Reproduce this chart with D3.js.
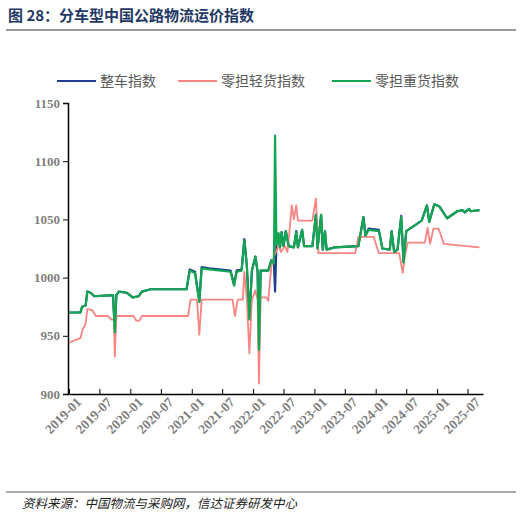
<!DOCTYPE html>
<html><head><meta charset="utf-8">
<script src="https://cdn.jsdelivr.net/npm/d3@7"></script>
<style>body{margin:0;background:#fff}</style></head>
<body><svg id="c" width="522" height="520"></svg>
<script>
const seriesNames=["整车指数","零担轻货指数","零担重货指数"];
const colors=["#1f3e8c","#f88582","#12a650"];
const xTicks=["2019-01","2019-07","2020-01","2020-07","2021-01","2021-07","2022-01","2022-07","2023-01","2023-07","2024-01","2024-07","2025-01","2025-07"];
const yTicks=[900,950,1000,1050,1100,1150];
const heavy=[["2019-01-01",970],["2019-03-10",970],["2019-03-20",975],["2019-04-10",976],["2019-04-20",988],["2019-05-10",987],["2019-06-01",984],["2019-09-20",985],["2019-10-01",953],["2019-10-10",985],["2019-10-25",988],["2019-12-10",987],["2020-01-15",983],["2020-02-20",984],["2020-03-10",988],["2020-05-01",990],["2020-12-01",990],["2020-12-20",1006],["2021-01-20",1004],["2021-02-15",979],["2021-03-01",1008],["2021-04-15",1007],["2021-08-20",1005],["2021-09-10",993],["2021-09-25",1005],["2021-10-25",1006],["2021-11-10",1032],["2021-11-25",1010],["2021-12-10",964],["2021-12-25",1006],["2022-01-15",1018],["2022-01-28",1005],["2022-02-05",938],["2022-02-15",1006],["2022-04-01",1006],["2022-04-20",1015],["2022-05-05",1012],["2022-05-12",1122],["2022-05-20",1028],["2022-06-01",1038],["2022-06-10",1026],["2022-06-20",1039],["2022-07-01",1027],["2022-07-15",1040],["2022-08-01",1027],["2022-09-01",1026],["2022-09-15",1039],["2022-09-25",1026],["2022-10-20",1041],["2022-11-01",1027],["2022-12-20",1027],["2023-01-10",1054],["2023-01-20",1025],["2023-02-10",1054],["2023-02-20",1024],["2023-03-05",1040],["2023-03-15",1024],["2023-05-01",1026],["2023-09-20",1027],["2023-10-20",1052],["2023-11-01",1036],["2023-11-20",1041],["2024-01-20",1040],["2024-02-10",1025],["2024-03-25",1024],["2024-04-05",1040],["2024-04-20",1022],["2024-05-10",1024],["2024-06-01",1052],["2024-06-15",1013],["2024-07-01",1040],["2024-08-01",1043],["2024-10-01",1049],["2024-11-01",1062],["2024-11-15",1048],["2024-12-15",1063],["2025-01-15",1061],["2025-03-01",1051],["2025-05-01",1057],["2025-06-01",1058],["2025-06-15",1056],["2025-07-10",1059],["2025-07-20",1057],["2025-09-10",1058]];
const full=[["2019-01-01",970],["2019-03-10",970],["2019-03-20",975],["2019-04-10",976],["2019-04-20",988],["2019-05-10",987],["2019-06-01",984],["2019-09-20",985],["2019-10-01",954],["2019-10-10",985],["2019-10-25",988],["2019-12-10",987],["2020-01-15",983],["2020-02-20",984],["2020-03-10",988],["2020-05-01",990],["2020-12-01",990],["2020-12-20",1007],["2021-01-20",1005],["2021-02-15",980],["2021-03-01",1009],["2021-04-15",1008],["2021-08-20",1006],["2021-09-10",994],["2021-09-25",1006],["2021-10-25",1007],["2021-11-10",1033],["2021-11-25",1010],["2021-12-10",965],["2021-12-25",1006],["2022-01-15",1018],["2022-01-28",1005],["2022-02-05",939],["2022-02-15",1006],["2022-04-01",1006],["2022-04-20",1015],["2022-05-05",1012],["2022-05-12",988],["2022-05-20",1028],["2022-06-01",1038],["2022-06-10",1026],["2022-06-20",1039],["2022-07-01",1027],["2022-07-15",1040],["2022-08-01",1027],["2022-09-01",1026],["2022-09-15",1040],["2022-09-25",1026],["2022-10-20",1041],["2022-11-01",1027],["2022-12-20",1027],["2023-01-10",1054],["2023-01-20",1025],["2023-02-10",1054],["2023-02-20",1024],["2023-03-05",1040],["2023-03-15",1024],["2023-05-01",1026],["2023-09-20",1027],["2023-10-20",1052],["2023-11-01",1036],["2023-11-20",1042],["2024-01-20",1041],["2024-02-10",1025],["2024-03-25",1024],["2024-04-05",1040],["2024-04-20",1022],["2024-05-10",1024],["2024-06-01",1053],["2024-06-15",1013],["2024-07-01",1040],["2024-08-01",1043],["2024-10-01",1049],["2024-11-01",1062],["2024-11-15",1048],["2024-12-15",1063],["2025-01-15",1061],["2025-03-01",1051],["2025-05-01",1057],["2025-06-01",1058],["2025-06-15",1056],["2025-07-10",1059],["2025-07-20",1057],["2025-09-10",1058]];
const light=[["2019-01-01",944],["2019-02-01",946],["2019-03-10",948],["2019-03-25",956],["2019-04-10",960],["2019-04-20",973],["2019-05-20",972],["2019-06-10",967],["2019-08-20",967],["2019-09-10",964],["2019-09-25",964],["2019-10-01",932],["2019-10-10",967],["2020-01-20",967],["2020-02-05",963],["2020-02-25",963],["2020-03-10",967],["2020-12-10",967],["2020-12-25",981],["2021-02-01",981],["2021-02-15",951],["2021-03-01",981],["2021-09-01",981],["2021-09-15",967],["2021-10-01",981],["2021-11-01",981],["2021-11-10",1005],["2021-11-25",981],["2021-12-10",935],["2021-12-25",981],["2022-01-15",989],["2022-01-28",981],["2022-02-05",909],["2022-02-15",983],["2022-03-20",983],["2022-04-01",980],["2022-04-20",1010],["2022-05-05",1018],["2022-05-20",1023],["2022-06-05",1028],["2022-06-15",1022],["2022-07-10",1027],["2022-07-25",1022],["2022-08-20",1062],["2022-09-01",1050],["2022-09-15",1062],["2022-09-25",1049],["2022-12-20",1049],["2023-01-10",1068],["2023-01-25",1021],["2023-09-01",1021],["2023-09-20",1035],["2023-12-20",1035],["2024-01-20",1021],["2024-05-20",1021],["2024-06-10",1004],["2024-06-25",1020],["2024-07-10",1030],["2024-10-20",1030],["2024-11-05",1043],["2024-11-20",1029],["2024-12-10",1042],["2025-01-10",1042],["2025-02-10",1029],["2025-09-10",1026]];

const svg=d3.select("#c");
const pd=d3.timeParse("%Y-%m-%d"), pm=d3.timeParse("%Y-%m");
const x=d3.scaleTime().domain([pm("2019-01"),pd("2025-10-01")]).range([69,483]);
const y=d3.scaleLinear().domain([900,1150]).range([394,103]);
const serif="'Liberation Serif','Times New Roman',serif";
const cjk="'Noto Sans CJK SC',sans-serif";

svg.append("text").attr("x",8).attr("y",21).attr("font-family",cjk).attr("font-weight","bold").attr("font-size",15).attr("fill","#1f3864").text("图 28：分车型中国公路物流运价指数");
svg.append("line").attr("x1",6).attr("x2",516).attr("y1",30).attr("y2",30).attr("stroke","#333").attr("stroke-width",1);

const lx=[57,178,332];
seriesNames.forEach((n,i)=>{
  svg.append("line").attr("x1",lx[i]).attr("x2",lx[i]+39).attr("y1",81).attr("y2",81).attr("stroke",colors[i]).attr("stroke-width",2);
  svg.append("text").attr("x",lx[i]+43).attr("y",86).attr("font-family",cjk).attr("font-size",14).attr("fill","#595959").text(n);
});

const ya=svg.append("g").attr("transform","translate(68,0)").call(d3.axisLeft(y).tickValues(yTicks).tickSize(5).tickFormat(d3.format("d")));
ya.selectAll("text").attr("font-family",serif).attr("font-weight","bold").attr("font-size",13).attr("fill","#7f7f7f");
ya.select(".domain").attr("stroke","#000").attr("stroke-width",1.5);
const xa=svg.append("g").attr("transform","translate(0,394)").call(d3.axisBottom(x).tickValues(xTicks.map(t=>pm(t))).tickSize(-5).tickSizeOuter(0).tickFormat(d3.timeFormat("%Y-%m")));
xa.select(".domain").attr("stroke","#000").attr("stroke-width",1.5);
xa.selectAll("text").attr("font-family",serif).attr("font-weight","bold").attr("font-size",13.5).attr("fill","#7f7f7f")
  .attr("text-anchor","end").attr("transform","translate(6,2) rotate(-45)").attr("dy","0.5em");

const line=d3.line().x(d=>x(pd(d[0]))).y(d=>y(d[1]));
[[full,0,2.2],[light,1,1.8],[heavy,2,2.2]].forEach(([data,i,w])=>{
  svg.append("path").datum(data).attr("d",line).attr("fill","none").attr("stroke",colors[i]).attr("stroke-width",w).attr("stroke-linejoin","round");
});

svg.append("line").attr("x1",6).attr("x2",516).attr("y1",492).attr("y2",492).attr("stroke","#555").attr("stroke-width",1);
svg.append("text").attr("x",22).attr("y",508).attr("font-family",cjk).attr("font-style","italic").attr("font-size",12.5).attr("fill","#222").text("资料来源：中国物流与采购网，信达证券研发中心");
</script></body></html>
